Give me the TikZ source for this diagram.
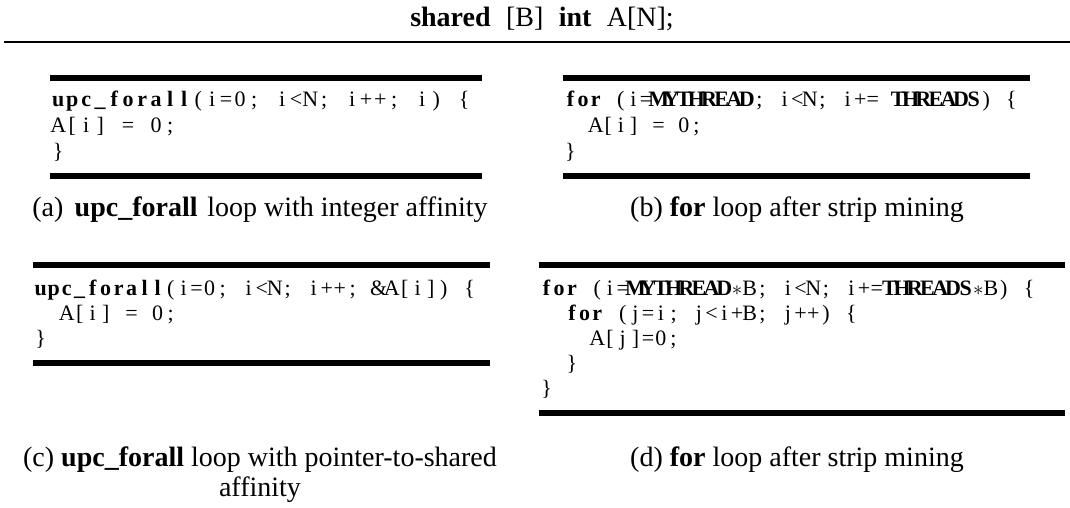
\documentclass[tikz,border=0pt]{standalone}
\usepackage{fontspec}
\setmainfont{Liberation Serif}
\newlength\cellw
\setlength\cellw{13pt}
\ExplSyntaxOn
\NewDocumentCommand\fx{m}
 {
  \str_map_inline:nn {#1}
   {
    \makebox[\cellw][c]
     {
      \str_case:nnF {##1}
       {
        {*}{$\ast$}
        {@}{}
        {!}{\{}
        {?}{\}}
       }
       {##1}
     }
   }
 }
\ExplSyntaxOff
\newcommand\cb[1]{{\bfseries\fx{#1}}}
\begin{document}
\begin{tikzpicture}[x=1pt,y=-1pt,
  codeln/.style={anchor=base west, inner sep=0pt, font=\fontsize{22}{22}\selectfont},
  captxt/.style={anchor=base, inner sep=0pt, font=\fontsize{28}{30}\selectfont},
  barln/.style={line width=5.5pt},
  rulel/.style={line width=1.6pt}]
\useasboundingbox (0,0) rectangle (1070,508);
% title
\node[captxt] (title) at (542,27)
  {\textbf{shared}\hspace{0.55em}[B]\hspace{0.55em}\textbf{int}\hspace{0.55em}A[N];};
\draw[rulel] (4,42) -- (1070,42);
% (a)
\setlength\cellw{14pt}
\draw[barln] (50,78) -- (482,78);
\node[codeln] (a1) at (51,107) {\cb{upc_forall}\fx{(i=0;@i<N;@i++;@i)@!}};
\node[codeln] (a2) at (51,132.5) {\fx{A[i]@=@0;}};
\node[codeln] (a3) at (51,158) {\fx{?}};
\draw[barln] (50,176) -- (482,176);
\node[captxt] (capa) at (260,216) {(a)\hspace{0.4em}\textbf{upc\_forall}\hspace{0.35em}loop with integer affinity};
% (b)
\setlength\cellw{12.6pt}
\draw[barln] (563,78) -- (1030,78);
\node[codeln] (b1) at (564,107) {\cb{for}\fx{@(i=}\cb{MYTHREAD}\fx{;@i<N;@i+=@}\cb{THREADS}\fx{)@!}};
\node[codeln] (b2) at (564,132.5) {\fx{@@A[i]@=@0;}};
\node[codeln] (b3) at (564,158) {\fx{?}};
\draw[barln] (563,176) -- (1030,176);
\node[captxt] (capb) at (797,216) {(b) \textbf{for} loop after strip mining};
% (c)
\setlength\cellw{13pt}
\draw[barln] (33,265) -- (490,265);
\node[codeln] (c1) at (34,295) {\cb{upc_forall}\fx{(i=0;@i<N;@i++;@&A[i])@!}};
\node[codeln] (c2) at (34,320) {\fx{@@A[i]@=@0;}};
\node[codeln] (c3) at (34,345) {\fx{?}};
\draw[barln] (33,363) -- (490,363);
\node[captxt] (capc1) at (260,466) {(c) \textbf{upc\_forall} loop with pointer-to-shared};
\node[captxt] (capc2) at (260,496) {affinity};
% (d)
\setlength\cellw{12.7pt}
\draw[barln] (539,265) -- (1065,265);
\node[codeln] (d1) at (540,295) {\cb{for}\fx{@(i=}\cb{MYTHREAD}\fx{*B;@i<N;@i+=}\cb{THREADS}\fx{*B)@!}};
\node[codeln] (d2) at (540,320) {\fx{@@}\cb{for}\fx{@(j=i;@j<i+B;@j++)@!}};
\node[codeln] (d3) at (540,345) {\fx{@@@@A[j]=0;}};
\node[codeln] (d4) at (540,370) {\fx{@@?}};
\node[codeln] (d5) at (540,395) {\fx{?}};
\draw[barln] (539,413) -- (1065,413);
\node[captxt] (capd) at (797,466) {(d) \textbf{for} loop after strip mining};
\end{tikzpicture}
\end{document}
